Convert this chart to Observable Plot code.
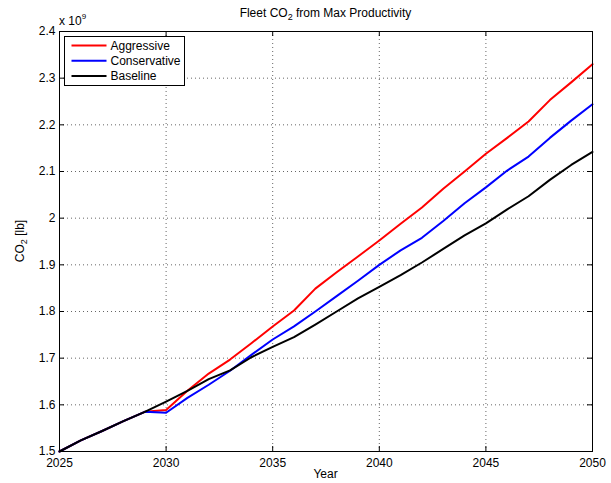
<!DOCTYPE html>
<html><head><meta charset="utf-8">
<script src="https://cdn.jsdelivr.net/npm/d3@7"></script>
<script src="https://cdn.jsdelivr.net/npm/@observablehq/plot@0.6"></script>
<style>
body{margin:0;background:#fff;}
#chart svg{display:block;}
</style></head><body><div id="chart"></div>
<script>
// ---- data (CO2 in units of 10^9 lb) ----
const years = [2025,2026,2027,2028,2029,2030,2031,2032,2033,2034,2035,2036,2037,2038,2039,2040,2041,2042,2043,2044,2045,2046,2047,2048,2049,2050];
const aggressive   = [1.500,1.524,1.544,1.565,1.585,1.589,1.630,1.667,1.697,1.732,1.768,1.802,1.849,1.884,1.918,1.952,1.988,2.023,2.063,2.100,2.138,2.172,2.207,2.253,2.291,2.330];
const conservative = [1.500,1.524,1.544,1.565,1.585,1.583,1.615,1.643,1.673,1.707,1.740,1.768,1.800,1.833,1.866,1.900,1.931,1.958,1.994,2.032,2.066,2.102,2.132,2.172,2.209,2.244];
const baseline     = [1.500,1.524,1.544,1.565,1.585,1.607,1.630,1.655,1.674,1.702,1.724,1.745,1.772,1.800,1.828,1.853,1.878,1.905,1.934,1.963,1.989,2.019,2.047,2.082,2.114,2.142];
const seriesNames  = ["Aggressive","Conservative","Baseline"];
const seriesColors = ["#ff0000","#0000ff","#000000"];
const xTicks = [2025,2030,2035,2040,2045,2050];
const yTicks = [1.5,1.6,1.7,1.8,1.9,2.0,2.1,2.2,2.3,2.4];

// ---- layout ----
const W = 611, H = 483, mL = 59, mR = 19, mT = 31, mB = 32;
const fw = W - mL - mR, fh = H - mT - mB, tk = 5;
const font = "'Liberation Sans', Arial, Helvetica, sans-serif";

const seriesValues = [aggressive, conservative, baseline];
const rows = seriesNames.flatMap((s, j) => years.map((yr, i) => ({year: yr, value: seriesValues[j][i], series: s})));

const gridStyle = {stroke: "#666", strokeOpacity: 1, strokeWidth: 1, strokeDasharray: "1,3"};

const chart = Plot.plot({
  width: W, height: H,
  marginLeft: mL, marginRight: mR, marginTop: mT, marginBottom: mB,
  style: {fontFamily: font, fontSize: "12px", background: "#fff", color: "#000"},
  x: {domain: [2025, 2050], label: null},
  y: {domain: [1.5, 2.4], label: null},
  color: {domain: seriesNames, range: seriesColors},
  marks: [
    Plot.gridX(xTicks, gridStyle),
    Plot.gridY(yTicks, gridStyle),
    Plot.tickX(xTicks, {x: d => d, insetTop: fh - tk, stroke: "#000"}),
    Plot.tickX(xTicks, {x: d => d, insetBottom: fh - tk, stroke: "#000"}),
    Plot.tickY(yTicks, {y: d => d, insetRight: fw - tk, stroke: "#000"}),
    Plot.tickY(yTicks, {y: d => d, insetLeft: fw - tk, stroke: "#000"}),
    Plot.axisX(xTicks, {tickSize: 0, tickPadding: 7, fontSize: 12, tickFormat: d => String(d), label: null}),
    Plot.axisY(yTicks, {tickSize: 0, tickPadding: 4, fontSize: 12, tickFormat: d => String(+d.toFixed(1)), label: null}),
    Plot.line(rows, {x: "year", y: "value", z: "series", stroke: "series", strokeWidth: 2}),
    Plot.frame({stroke: "#000", strokeWidth: 1})
  ]
});
document.getElementById("chart").appendChild(chart);

// ---- annotations: title, axis labels, exponent, legend ----
const svg = d3.select(chart);
const g = svg.append("g").attr("font-family", font).attr("fill", "#000");

const title = g.append("text").attr("x", mL + fw / 2).attr("y", 17).attr("text-anchor", "middle").attr("font-size", 12);
title.append("tspan").text("Fleet CO");
title.append("tspan").attr("font-size", 9).attr("dy", 3).text("2");
title.append("tspan").attr("dy", -3).text(" from Max Productivity");

g.append("text").attr("x", mL + fw / 2).attr("y", H - 5).attr("text-anchor", "middle").attr("font-size", 12).text("Year");

const yl = g.append("text").attr("transform", `translate(24,${mT + fh / 2}) rotate(-90)`).attr("text-anchor", "middle").attr("font-size", 12);
yl.append("tspan").text("CO");
yl.append("tspan").attr("font-size", 9).attr("dy", 3).text("2");
yl.append("tspan").attr("dy", -3).text(" [lb]");

const ex = g.append("text").attr("x", mL).attr("y", 25).attr("text-anchor", "start").attr("font-size", 12);
ex.append("tspan").text("x 10");
ex.append("tspan").attr("font-size", 8).attr("dy", -6).text("9");

const lg = svg.append("g").attr("font-family", font).attr("text-anchor", "start");
const lx = mL + 5.5, ly = mT + 5.5, lw = 120, lh = 49, rowH = 15.3;
lg.append("rect").attr("x", lx).attr("y", ly).attr("width", lw).attr("height", lh).attr("fill", "#fff").attr("stroke", "#000");
seriesNames.forEach((s, i) => {
  const cy = ly + 9 + i * rowH;
  lg.append("line").attr("x1", lx + 7).attr("x2", lx + 42).attr("y1", cy).attr("y2", cy).attr("stroke", seriesColors[i]).attr("stroke-width", 2);
  lg.append("text").attr("x", lx + 46).attr("y", cy).attr("dy", "0.35em").attr("text-anchor", "start").attr("font-size", 12).attr("fill", "#000").text(s);
});
</script>
</body></html>
